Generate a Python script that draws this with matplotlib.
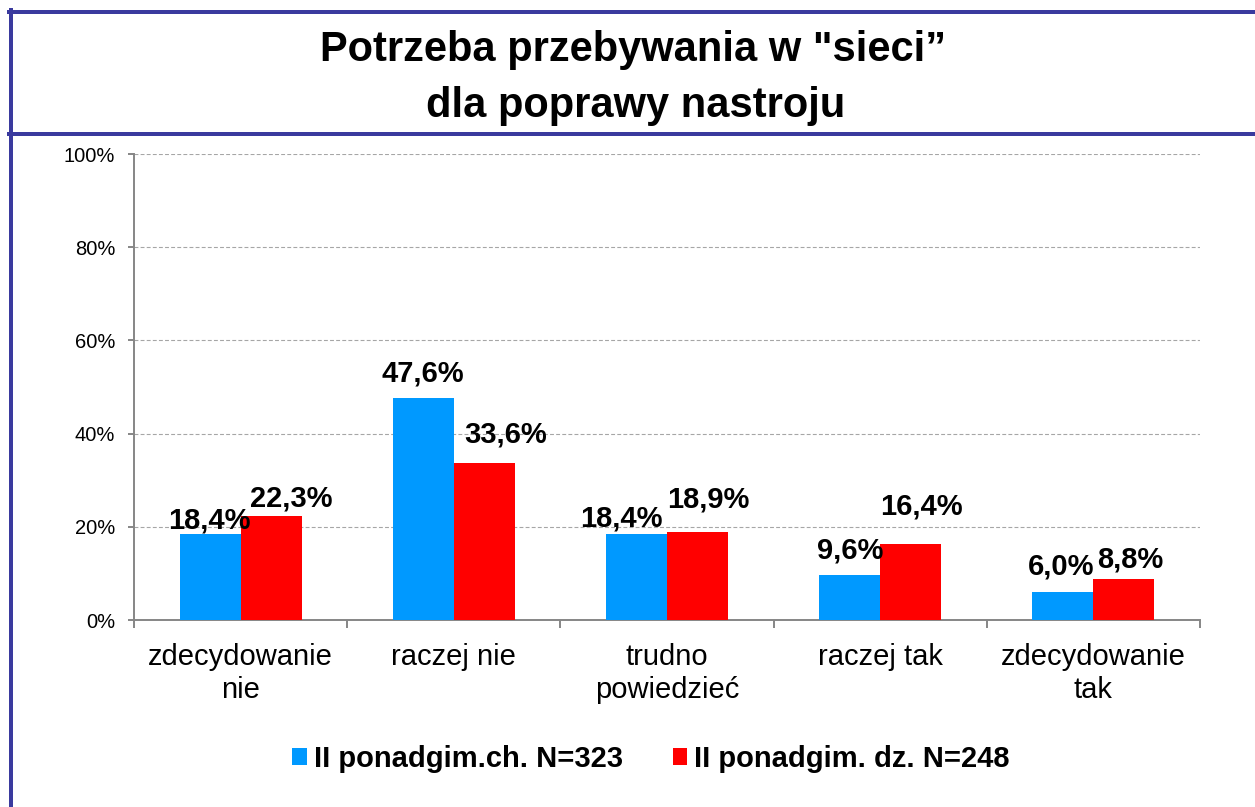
import matplotlib
matplotlib.use("Agg")
import matplotlib.pyplot as plt
from matplotlib.lines import Line2D
from matplotlib.patches import Patch
import numpy as np

plt.rcParams['font.family'] = ['Liberation Sans', 'DejaVu Sans']

# ---- data ----
categories = ["zdecydowanie\nnie", "raczej nie", "trudno\npowiedzieć", "raczej tak", "zdecydowanie\ntak"]
series_names = ["II ponadgim.ch. N=323", "II ponadgim. dz. N=248"]
boys = [18.4, 47.6, 18.4, 9.6, 6.0]
girls = [22.3, 33.6, 18.9, 16.4, 8.8]
yticks = [0, 20, 40, 60, 80, 100]
title_lines = ['Potrzeba przebywania w "sieci”', 'dla poprawy nastroju']

# ---- style ----
colors = ['#0099FF', '#FF0000']
frame_color = '#3A3A9E'
axis_grey = '#868686'
# label offsets in pixels (dx from bar centre, gap above bar top)
boys_off = [(-1, 6), (0, 17), (-15, 8), (0, 17), (-1.5, 18)]
girls_off = [(20, 10), (21, 21), (11, 24), (11, 29), (6, 11)]

W, H = 1255, 807
fig = plt.figure(figsize=(W / 100, H / 100), dpi=100)
ax = fig.add_axes([134 / W, 1 - 620 / H, (1200 - 134) / W, (620 - 154) / H])

x = np.arange(len(categories))
bw = 0.286
b1 = ax.bar(x - bw / 2, boys, bw, color=colors[0], linewidth=0, label=series_names[0], zorder=3)
b2 = ax.bar(x + bw / 2, girls, bw, color=colors[1], linewidth=0, label=series_names[1], zorder=3)

px = 0.72  # pixel -> points
def fmt(v):
    return f"{v:.1f}%".replace('.', ',')
for bars, vals, offs in ((b1, boys, boys_off), (b2, girls, girls_off)):
    for rect, v, (dx, dy) in zip(bars, vals, offs):
        ax.annotate(fmt(v), (rect.get_x() + rect.get_width() / 2, v),
                    xytext=(dx * px, dy * px), textcoords='offset points',
                    ha='center', va='baseline', fontsize=21, fontweight='bold',
                    color='black', zorder=5)

ax.set_xlim(-0.5, len(categories) - 0.5)
ax.set_ylim(0, 100)
ax.set_yticks(yticks)
ax.set_yticklabels([f"{t}%" for t in yticks])
ax.set_xticks(x)
ax.set_xticklabels(categories, linespacing=1.22)
ax.set_xticks(np.arange(len(categories) + 1) - 0.5, minor=True)

ax.tick_params(axis='y', direction='out', length=6 * px, width=1.4, color=axis_grey,
               labelsize=14.5, pad=13 * px)
ax.tick_params(axis='x', which='major', length=0, labelsize=21, pad=23 * px)
ax.tick_params(axis='x', which='minor', direction='out', length=8 * px, width=1.4, color=axis_grey)

for s in ('top', 'right'):
    ax.spines[s].set_visible(False)
for s in ('left', 'bottom'):
    ax.spines[s].set_color(axis_grey)
    ax.spines[s].set_linewidth(1.4)

ax.yaxis.grid(True, linestyle=(0, (3.5, 2)), color='#A6A6A6', linewidth=0.8, zorder=0)
ax.set_axisbelow(True)

# ---- title ----
fig.text(633 / W, 1 - 61 / H, title_lines[0], ha='center', va='baseline',
         fontsize=30, fontweight='bold')
fig.text(636 / W, 1 - 117 / H, title_lines[1], ha='center', va='baseline',
         fontsize=30, fontweight='bold')

# ---- frame lines ----
lw = 4 * px
fig.add_artist(Line2D([10.5 / W, 10.5 / W], [1 - 9.5 / H, 0], color=frame_color, lw=lw))
fig.add_artist(Line2D([8.5 / W, 1], [1 - 11.5 / H, 1 - 11.5 / H], color=frame_color, lw=lw))
fig.add_artist(Line2D([8.5 / W, 1], [1 - 134 / H, 1 - 134 / H], color=frame_color, lw=lw))

# ---- legend ----
handles = [Patch(facecolor=c, edgecolor='none') for c in colors]
fig.legend(handles, series_names, loc='center', bbox_to_anchor=(651 / W, 1 - 759 / H),
           ncol=2, frameon=False, prop={'size': 21, 'weight': 'bold'},
           handlelength=0.5, handleheight=0.5, handletextpad=0.25, columnspacing=1.7,
           borderpad=0, borderaxespad=0)

fig.savefig('out.png', dpi=100)
